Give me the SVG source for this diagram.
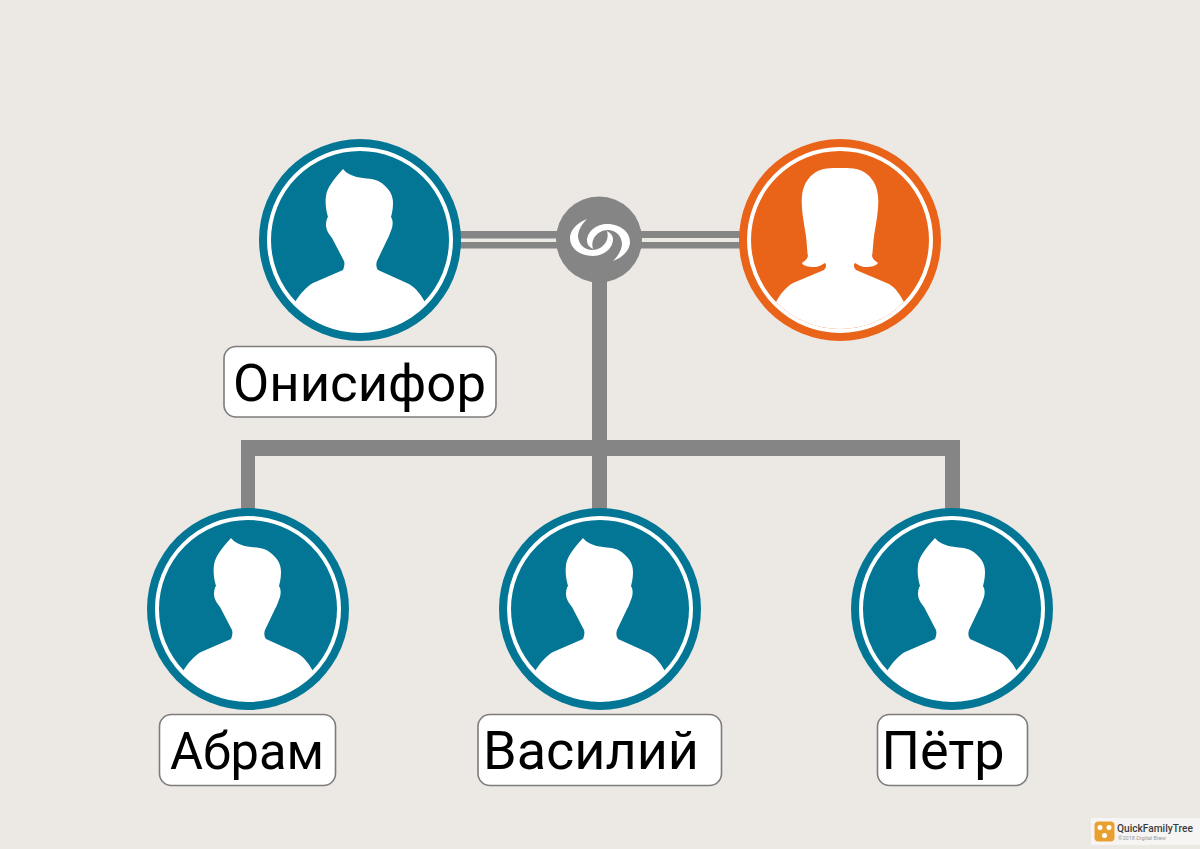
<svg xmlns="http://www.w3.org/2000/svg" width="1200" height="849" viewBox="0 0 1200 849">
<style>
.bar{fill:#858585}
.lbl{fill:#fff;stroke:#7c7c7c;stroke-width:1.6}
.name{font-family:Roboto,"Noto Sans",sans-serif;fill:#000}
.white{fill:#fff}
.ring{fill:none;stroke:#fff;stroke-width:4}
.m{fill:#027694}
.f{fill:#e96418}
</style>
<defs>
<path id="man" d="M-17,-71 C-13,-66 -6,-63 3,-62 C13,-61 19,-60 24,-55 C30,-50 33,-44 33,-37 C33,-31 32,-27 31,-23 C33,-20 33,-16 32,-12 C30,-7 29,-3 27,0 L17,21 C16,24 16,27 18,30 L49,44 C56,48 61,55 65,62 A90,90 0 0 1 -65,62 C-59,53 -54,47 -47,43 L-17,30 C-16,27 -15,24 -16,21 L-28,-2 C-31,-6 -34,-10 -34,-15 C-34,-19 -33,-22 -32,-23 C-34,-30 -35,-37 -34,-44 C-33,-52 -27,-60 -17,-71 Z"/>
<path id="woman" d="M0,-72 C9,-72 18,-72 24,-68 C32,-63 37,-55 38,-44 C39,-33 37,-22 35,-10 C33,0 33,12 32,16 C33,20 36,21 38,23 C36,26 31,27 26,27 C21,27 19,25 15,23 C13,25 14,28 16,30 L49,44 C56,48 60,55 64,62 A89.500,89.500 0 0 1 -64,62 C-59,53 -54,47 -47,43 L-16,30 C-14,28 -13,25 -15,23 C-19,25 -21,27 -26,27 C-31,27 -37,26 -38,23 C-36,21 -33,20 -32,16 C-33,12 -33,0 -35,-10 C-37,-22 -39,-33 -38,-44 C-37,-55 -32,-63 -24,-68 C-18,-72 -9,-72 0,-72 Z"/>
<path id="swirl" d="M-13,-21 C-24,-17 -30,-9 -30,-2 C-30,9 -19,16 -7,16 C3,16 13,9 13,-1 C13,-4 11,-7 7,-9 C8,-5 8,-2 6,2 C3,7 -2,10 -8,10 C-15,10 -21,5 -22,-3 C-22,-10 -18,-16 -13,-21 Z"/>
<g id="personM"><circle r="101" class="m"/><circle r="91" class="ring"/><use href="#man" class="white"/></g>
<g id="personF"><circle r="101" class="f"/><circle r="91" class="ring"/><use href="#woman" class="white"/></g>
</defs>
<rect width="1200" height="849" fill="#ece9e4"/>
<g id="connectors">
<rect class="bar" x="455" y="231" width="110" height="7.500"/>
<rect class="bar" x="455" y="242" width="110" height="6.500"/>
<rect class="bar" x="635" y="231" width="110" height="7"/>
<rect class="bar" x="635" y="242" width="110" height="6.500"/>
<rect class="bar" x="592" y="270" width="15" height="245"/>
<rect class="bar" x="241" y="440" width="719" height="16"/>
<rect class="bar" x="241" y="440" width="14" height="75"/>
<rect class="bar" x="945" y="440" width="15" height="75"/>
</g>
<g id="union" transform="translate(599 239.500)">
<circle r="43" fill="#858585"/>
<g transform="translate(1 0.500)">
<use href="#swirl" class="white"/>
<use href="#swirl" class="white" transform="rotate(180)"/>
</g>
</g>
<g id="onisifor"><use href="#personM" x="360" y="240"/>
<rect class="lbl" x="224" y="346.500" width="272" height="70.500" rx="12"/><text class="name" x="233" y="401" font-size="52" textLength="253" lengthAdjust="spacingAndGlyphs">Онисифор</text></g>
<g id="spouse"><use href="#personF" x="840" y="240"/></g>
<g id="abram"><use href="#personM" x="248" y="609"/>
<rect class="lbl" x="159.500" y="714.500" width="176" height="71" rx="12"/><text class="name" x="170" y="769" font-size="52" textLength="154" lengthAdjust="spacingAndGlyphs">Абрам</text></g>
<g id="vasily"><use href="#personM" x="600" y="609"/>
<rect class="lbl" x="478" y="714.500" width="243.500" height="71" rx="12"/><text class="name" x="591" y="769" font-size="54" text-anchor="middle">Василий</text></g>
<g id="petr"><use href="#personM" x="952" y="609"/>
<rect class="lbl" x="877.500" y="714.500" width="150" height="71" rx="12"/><text class="name" x="943" y="769" font-size="54" text-anchor="middle">Пётр</text></g>
<g id="logo">
<rect x="1091" y="818" width="109" height="27" fill="#f6f5f3"/>
<rect x="1094.500" y="821.500" width="20" height="20" rx="4" fill="#e9a030"/>
<circle cx="1100" cy="827.500" r="2.500" class="white"/><circle cx="1109" cy="827.500" r="2.500" class="white"/><circle cx="1104.500" cy="835.500" r="2.500" class="white"/>
<text x="1117" y="832" font-family="Roboto,sans-serif" font-size="10.500" font-weight="500" fill="#3c3c3c" textLength="76" lengthAdjust="spacingAndGlyphs">QuickFamilyTree</text>
<text x="1118" y="840" font-family="Roboto,sans-serif" font-size="5.500" fill="#999" textLength="48" lengthAdjust="spacingAndGlyphs">©2018 Digital Brew</text>
</g>
</svg>
